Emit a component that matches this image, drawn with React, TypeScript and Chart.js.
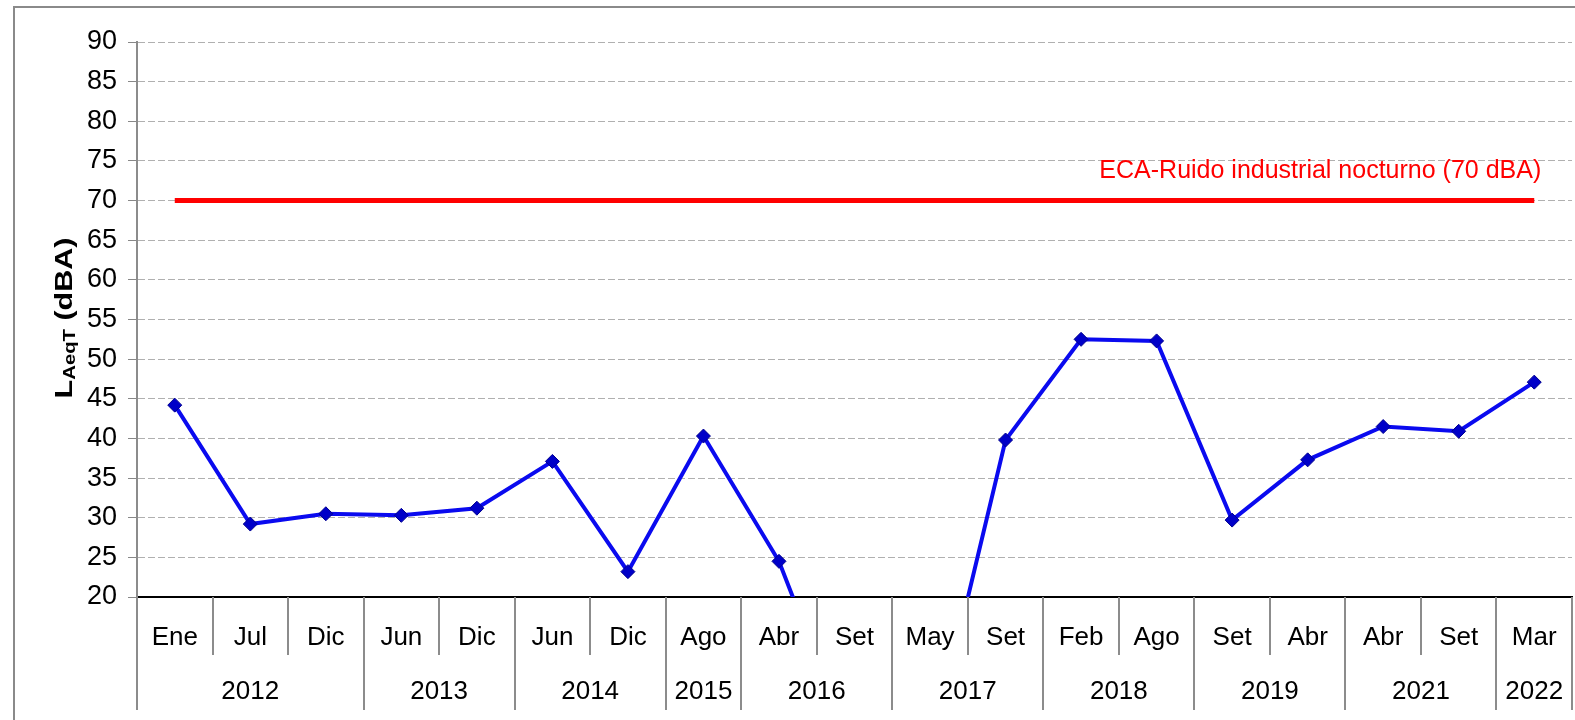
import React, { useEffect, useRef } from 'react';
import { Chart, registerables } from 'chart.js';

Chart.register(...registerables);

const months = ['Ene', 'Jul', 'Dic', 'Jun', 'Dic', 'Jun', 'Dic', 'Ago', 'Abr', 'Set', 'May', 'Set', 'Feb', 'Ago', 'Set', 'Abr', 'Abr', 'Set', 'Mar'];
const years = ['2012', '2013', '2014', '2015', '2016', '2017', '2018', '2019', '2021', '2022'];
const yearSpans = [3, 2, 2, 1, 2, 2, 2, 2, 2, 1];
const noiseValues = [44.2, 29.2, 30.5, 30.3, 31.2, 37.1, 23.2, 40.3, 24.5, 0, 0, 39.8, 52.5, 52.3, 29.7, 37.3, 41.5, 40.9, 47.1];
const limitValue = 70;
const limitLabel = 'ECA-Ruido industrial nocturno (70 dBA)';
const yMin = 20;
const yMax = 90;
const yStep = 5;
const yTitleMain = 'L';
const yTitleSub = 'AeqT';
const yTitleRest = ' (dBA)';

const FONT = '"Liberation Sans", Arial, sans-serif';

const decorPlugin = {
  id: 'decor',
  beforeDraw(chart: any) {
    const ctx = chart.ctx;
    ctx.save();
    ctx.fillStyle = '#ffffff';
    ctx.fillRect(0, 0, chart.width, chart.height);
    ctx.strokeStyle = '#8a8a8a';
    ctx.lineWidth = 2;
    ctx.beginPath();
    ctx.moveTo(14, chart.height);
    ctx.lineTo(14, 7);
    ctx.lineTo(chart.width, 7);
    ctx.stroke();
    ctx.restore();
  },
  afterDraw(chart: any) {
    const ctx = chart.ctx;
    const xs = chart.scales.x;
    const ys = chart.scales.y;
    const area = chart.chartArea;
    const n = months.length;
    const bound = (i: number) => {
      if (i <= 0) return area.left;
      if (i >= n) return area.right;
      return (xs.getPixelForValue(i - 1) + xs.getPixelForValue(i)) / 2;
    };
    const yearBounds = new Set<number>();
    let acc = 0;
    yearBounds.add(0);
    yearSpans.forEach((s) => { acc += s; yearBounds.add(acc); });

    ctx.save();
    ctx.strokeStyle = '#8c8c8c';
    ctx.lineWidth = 2;
    for (let i = 0; i <= n; i++) {
      const x = Math.round(bound(i));
      const len = yearBounds.has(i) ? 113 : 58;
      ctx.beginPath();
      ctx.moveTo(x, area.bottom);
      ctx.lineTo(x, area.bottom + len);
      ctx.stroke();
    }

    // year labels
    ctx.fillStyle = '#000000';
    ctx.font = `26px ${FONT}`;
    ctx.textAlign = 'center';
    ctx.textBaseline = 'middle';
    let start = 0;
    years.forEach((yr, k) => {
      const end = start + yearSpans[k];
      const cx = (bound(start) + bound(end)) / 2;
      ctx.fillText(yr, cx, area.bottom + 95);
      start = end;
    });

    // limit label
    ctx.fillStyle = '#ff0000';
    ctx.font = `25px ${FONT}`;
    ctx.textAlign = 'right';
    ctx.textBaseline = 'alphabetic';
    ctx.fillText(limitLabel, xs.getPixelForValue(n - 1) + 7, ys.getPixelForValue(limitValue) - 23);

    // y title with subscript
    ctx.fillStyle = '#000000';
    ctx.translate(64, 318);
    ctx.rotate(-Math.PI / 2);
    ctx.scale(1.27, 1);
    ctx.textAlign = 'left';
    const mainFont = `bold 24px ${FONT}`;
    const subFont = `bold 16px ${FONT}`;
    ctx.font = mainFont;
    const wMain = ctx.measureText(yTitleMain).width;
    const wRest = ctx.measureText(yTitleRest).width;
    ctx.font = subFont;
    const wSub = ctx.measureText(yTitleSub).width;
    const total = wMain + wSub + wRest;
    let tx = -total / 2;
    ctx.font = mainFont;
    ctx.fillText(yTitleMain, tx, 8);
    tx += wMain;
    ctx.font = subFont;
    ctx.fillText(yTitleSub, tx, 11);
    tx += wSub;
    ctx.font = mainFont;
    ctx.fillText(yTitleRest, tx, 8);
    ctx.restore();
  },
};

export default function App() {
  const ref = useRef<HTMLCanvasElement | null>(null);

  useEffect(() => {
    if (!ref.current) return;
    Chart.defaults.font.family = FONT;
    const chart = new Chart(ref.current, {
      type: 'line',
      data: {
        labels: months,
        datasets: [
          {
            label: 'LAeqT',
            data: noiseValues,
            borderColor: '#0a0aef',
            borderWidth: 4,
            pointStyle: 'rectRot',
            pointRadius: 7,
            pointBackgroundColor: '#0000c8',
            pointBorderColor: '#000090',
            pointBorderWidth: 1,
            tension: 0,
            clip: { left: 12, right: 12, top: 12, bottom: 0 } as any,
            order: 0,
          },
          {
            label: limitLabel,
            data: months.map(() => limitValue),
            borderColor: '#ff0000',
            borderWidth: 5,
            pointRadius: 0,
            tension: 0,
            order: 1,
          },
        ],
      },
      options: {
        animation: false,
        responsive: false,
        layout: { autoPadding: false, padding: { top: 42, right: 3, left: 0, bottom: 0 } },
        plugins: { legend: { display: false }, tooltip: { enabled: false } },
        scales: {
          x: {
            offset: true,
            grid: { display: false },
            border: { display: true, color: '#000000', width: 2 },
            ticks: { color: '#000000', font: { size: 26 }, padding: 17, maxRotation: 0, autoSkip: false },
            afterFit: (s: any) => { s.height = 123; s.paddingRight = 0; s.paddingLeft = 0; },
          },
          y: {
            min: yMin,
            max: yMax,
            ticks: { stepSize: yStep, color: '#000000', font: { size: 27 }, padding: 11 },
            grid: { color: '#b0b0b0', lineWidth: 1, tickLength: 9, tickColor: '#888888', tickBorderDash: [] },
            border: { display: true, color: '#8c8c8c', width: 2, dash: [7, 3] },
            afterFit: (s: any) => { s.width = 137; },
          },
        },
      },
      plugins: [decorPlugin],
    });
    return () => chart.destroy();
  }, []);

  return (
    <div style={{ position: 'absolute', left: 0, top: 0, width: 1575, height: 720 }}>
      <canvas ref={ref} width={1575} height={720} style={{ display: 'block' }} />
    </div>
  );
}
